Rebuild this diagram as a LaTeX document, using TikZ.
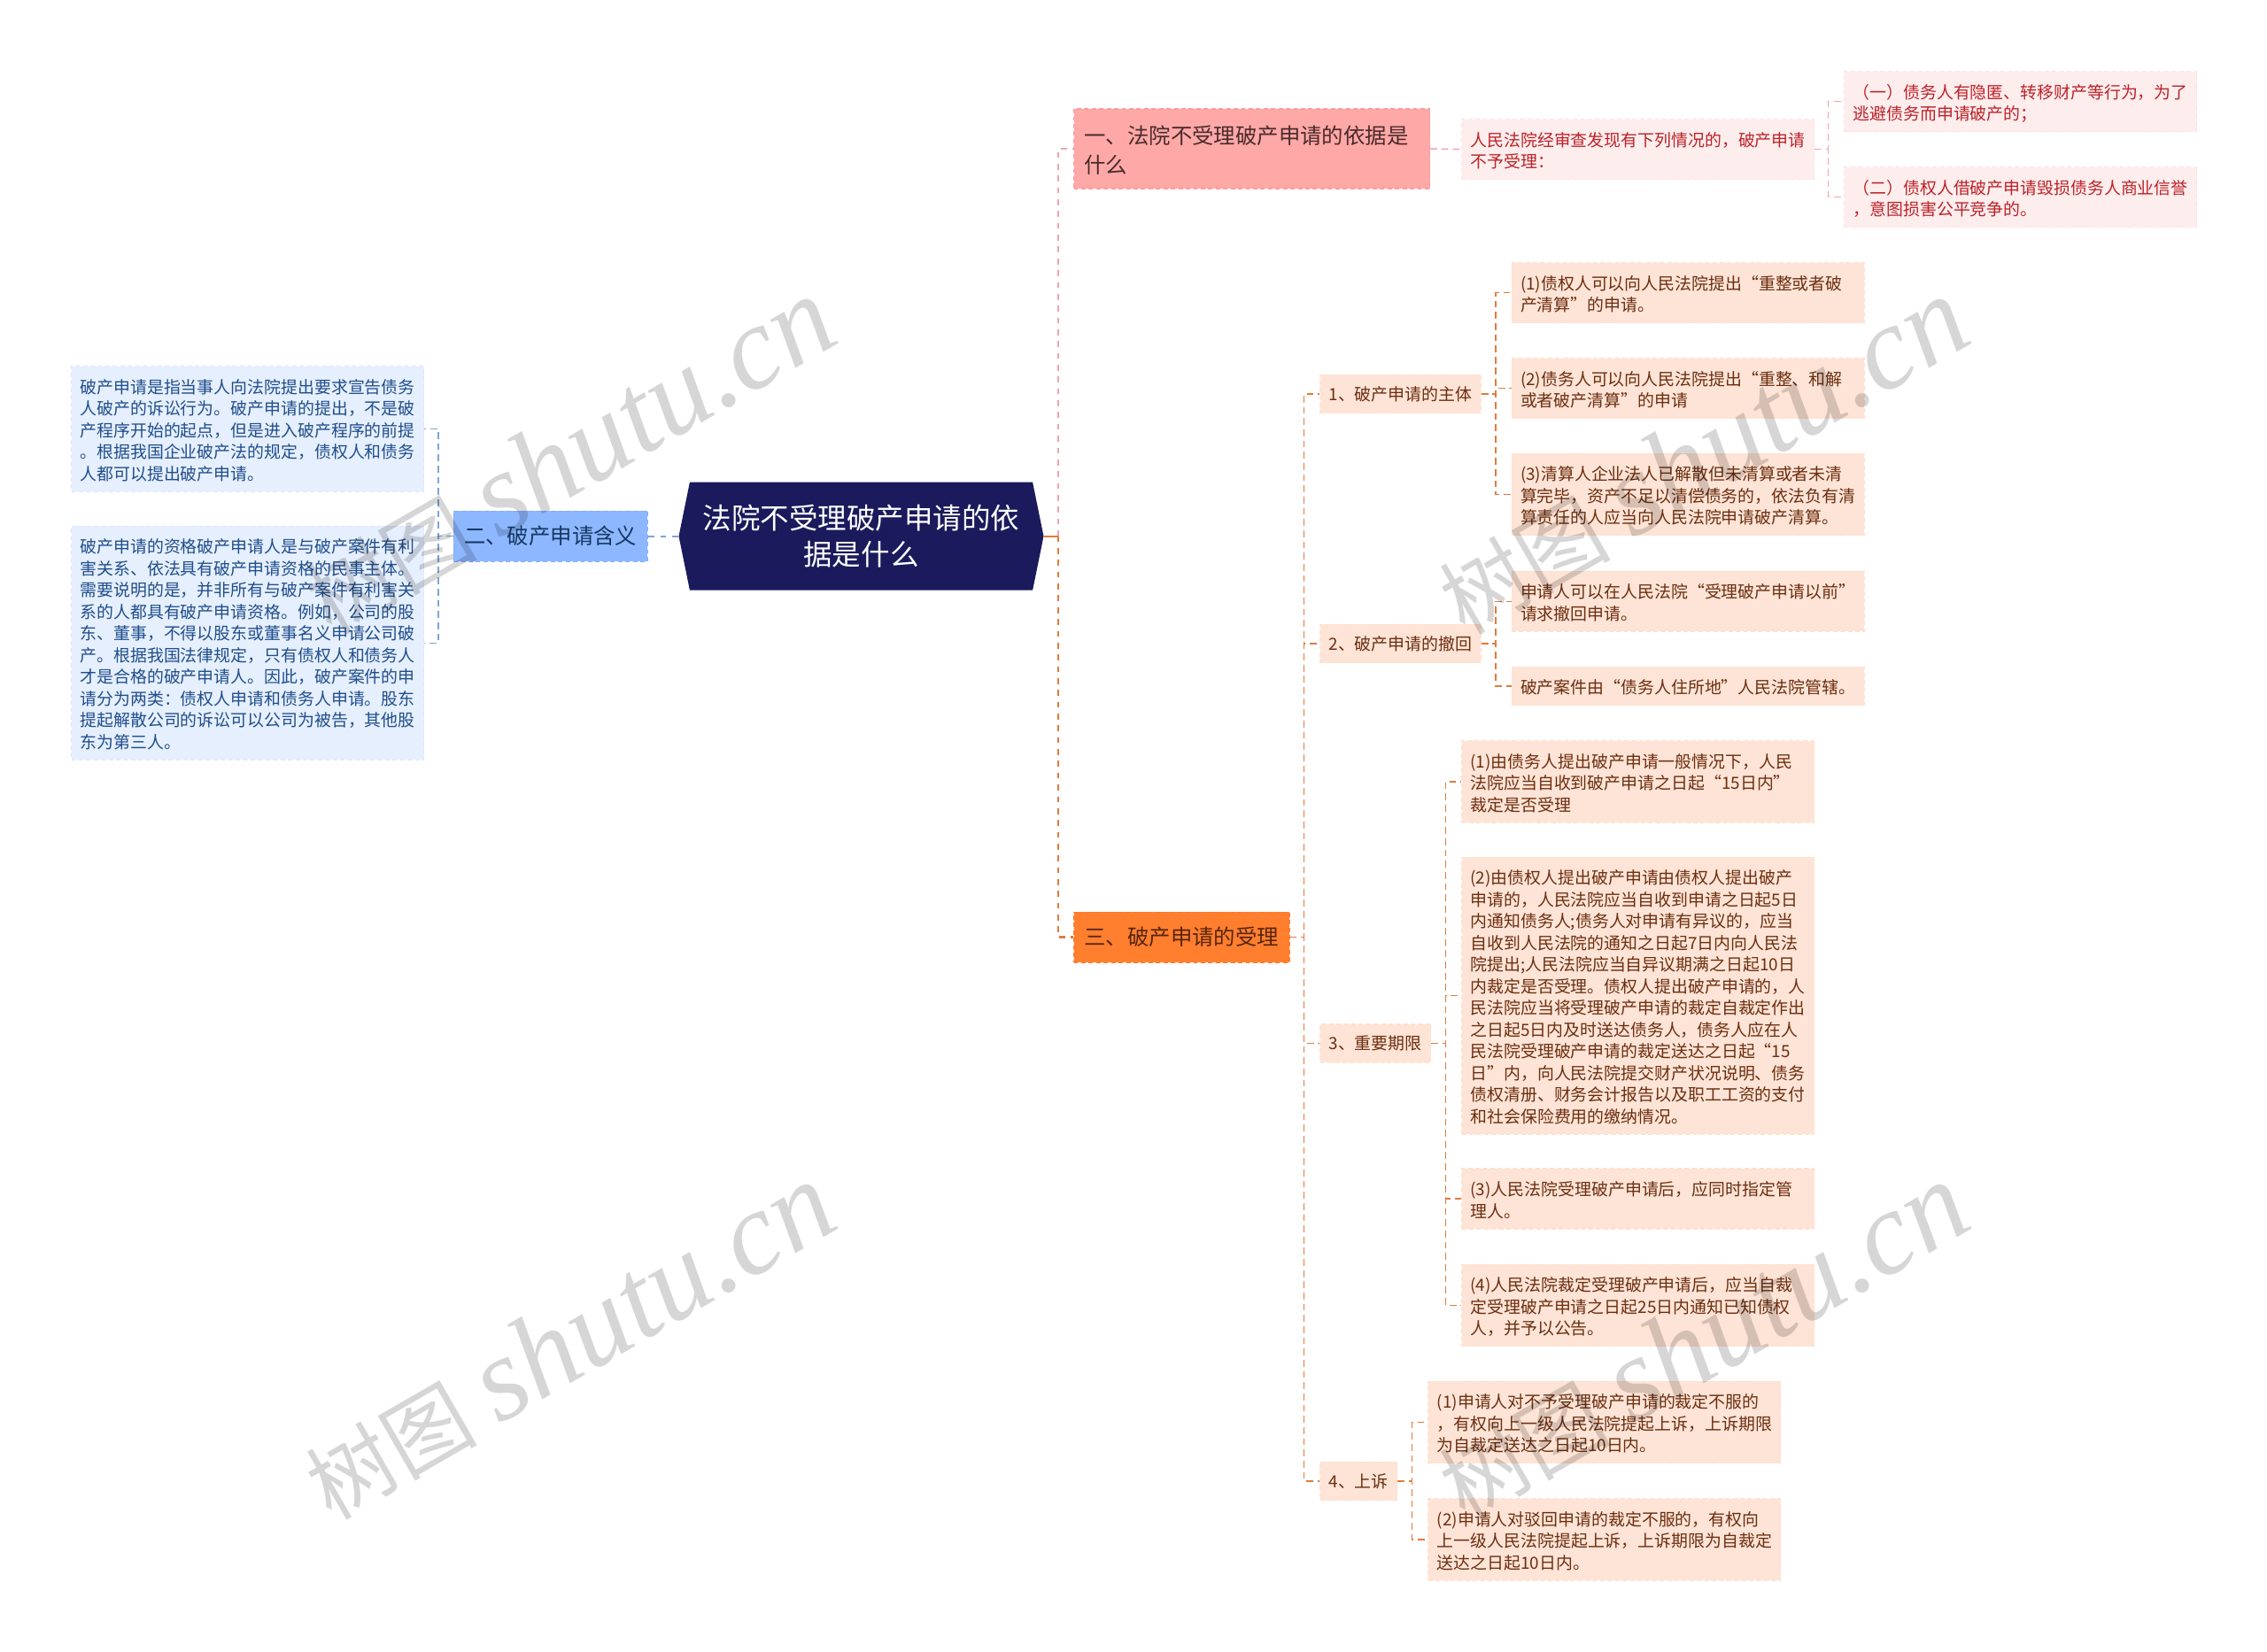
\documentclass[tikz,border=0pt]{standalone}
\usepackage{fontspec}
\setmainfont{Noto Sans CJK SC}
\newfontfamily\markcjk{Noto Sans CJK SC}
\newfontfamily\marklatin{Liberation Serif}
\usetikzlibrary{shapes.symbols}
\definecolor{navy}{HTML}{1A1A5C}
\definecolor{redtop}{HTML}{FFA8A8}
\definecolor{redleaf}{HTML}{FDEDED}
\definecolor{redtext}{HTML}{BC2228}
\definecolor{darktext}{HTML}{4A2A2A}
\definecolor{bluetop}{HTML}{8DB8FF}
\definecolor{blueleaf}{HTML}{E6EFFD}
\definecolor{bluetext}{HTML}{1F4E8C}
\definecolor{orangetop}{HTML}{FF7F2F}
\definecolor{orangeleaf}{HTML}{FEE4D6}
\definecolor{browntext}{HTML}{6B2E10}
\definecolor{linered}{HTML}{EFA5AE}
\definecolor{lineorange}{HTML}{E07B3C}
\definecolor{lineblue}{HTML}{7FA3D8}

\begin{document}
\begin{tikzpicture}[
        x=1cm, y=-1cm,
        base box/.style={
            rectangle,
            anchor=west,
            align=left,
            line width=0.3pt,
            dash pattern=on 1.4pt off 1pt
        },
        root box/.style={
            signal,
            signal to=west and east,
            signal pointer angle=157,
            fill=navy,
            text=white,
            minimum width=4.12cm,
            minimum height=1.22cm,
            inner sep=0pt,
            align=center,
            font=\fontsize{9.25}{11.86}\selectfont
        },
        top box/.style={
            base box,
            inner xsep=0.12cm,
            inner ysep=0pt,
            font=\fontsize{6.94}{9.3}\selectfont
        },
        sub box/.style={
            base box,
            fill=orangeleaf,
            draw=orangeleaf!96!orange,
            text=browntext,
            inner xsep=0.1cm,
            inner ysep=0pt,
            minimum height=0.434cm,
            font=\fontsize{5.38}{6.97}\selectfont
        },
        leaf box/.style={
            base box,
            inner xsep=0.1cm,
            inner ysep=0pt,
            text width=3.78cm,
            text height=5pt,
            font=\fontsize{5.38}{6.97}\selectfont
        },
        nlines/.style={
            minimum height={(0.245*#1+0.19)*1cm},
            text depth={(#1-1)*6.97pt}
        },
        red leaf/.style={leaf box,fill=redleaf,draw=redleaf!96!red,text=redtext},
        blue leaf/.style={leaf box,fill=blueleaf,draw=blueleaf!96!blue,text=bluetext},
        orange leaf/.style={leaf box,fill=orangeleaf,draw=orangeleaf!96!orange,text=browntext},
        main line/.style={line width=0.8pt,dash pattern=on 1.9pt off 1.9pt},
        stub line/.style={line width=0.65pt},
        thin line/.style={line width=0.42pt,dash pattern=on 2.2pt off 1.4pt},
        mark text/.style={rotate=30,black,opacity=0.16,inner sep=0pt}
    ]
    \useasboundingbox (0,0) rectangle (25.6,18.66);

    % root
    \node[root box] (root) at (9.725,6.057) {法院不受理破产申请的依\\据是什么};

    % first branch
    \node[top box,fill=redtop,draw=redtop!92!red,text=darktext,minimum width=4.02cm,minimum height=0.9cm,text width=3.78cm,text height=6.5pt,text depth=9.6pt] (one) at (12.12,1.68) {一、法院不受理破产申请的依据是\\什么};
    \node[red leaf,nlines=2] (one a) at (16.5,1.687) {人民法院经审查发现有下列情况的，破产申请\\不予受理：};
    \node[red leaf,nlines=2] (one aa) at (20.82,1.147) {（一）债务人有隐匿、转移财产等行为，为了\\逃避债务而申请破产的；};
    \node[red leaf,nlines=2] (one ab) at (20.82,2.227) {（二）债权人借破产申请毁损债务人商业信誉\\，意图损害公平竞争的。};

    % second branch
    \node[top box,anchor=east,fill=bluetop,draw=bluetop!92!blue,text=bluetext!70!black,minimum height=0.567cm] (two) at (7.318,6.057) {二、破产申请含义};
    \node[blue leaf,nlines=5] (two a) at (0.8,4.843) {破产申请是指当事人向法院提出要求宣告债务\\人破产的诉讼行为。破产申请的提出，不是破\\产程序开始的起点，但是进入破产程序的前提\\。根据我国企业破产法的规定，债权人和债务\\人都可以提出破产申请。};
    \node[blue leaf,nlines=10] (two b) at (0.8,7.263) {破产申请的资格破产申请人是与破产案件有利\\害关系、依法具有破产申请资格的民事主体。\\需要说明的是，并非所有与破产案件有利害关\\系的人都具有破产申请资格。例如，公司的股\\东、董事，不得以股东或董事名义申请公司破\\产。根据我国法律规定，只有债权人和债务人\\才是合格的破产申请人。因此，破产案件的申\\请分为两类：债权人申请和债务人申请。股东\\提起解散公司的诉讼可以公司为被告，其他股\\东为第三人。};

    % third branch
    \node[top box,fill=orangetop,draw=orangetop!92!red,text=browntext!80!black,minimum height=0.573cm] (three) at (12.12,10.587) {三、破产申请的受理};

    \node[sub box] (sub a) at (14.9,4.45) {1、破产申请的主体};
    \node[sub box] (sub b) at (14.9,7.27) {2、破产申请的撤回};
    \node[sub box] (sub c) at (14.9,11.787) {3、重要期限};
    \node[sub box] (sub d) at (14.9,16.73) {4、上诉};

    \node[orange leaf,nlines=2] (a1) at (17.065,3.307) {(1)债权人可以向人民法院提出“重整或者破\\产清算”的申请。};
    \node[orange leaf,nlines=2] (a2) at (17.065,4.387) {(2)债务人可以向人民法院提出“重整、和解\\或者破产清算”的申请};
    \node[orange leaf,nlines=3] (a3) at (17.065,5.587) {(3)清算人企业法人已解散但未清算或者未清\\算完毕，资产不足以清偿债务的，依法负有清\\算责任的人应当向人民法院申请破产清算。};

    \node[orange leaf,nlines=2] (b1) at (17.065,6.793) {申请人可以在人民法院“受理破产申请以前”\\请求撤回申请。};
    \node[orange leaf,minimum height=0.434cm,text depth=0pt] (b2) at (17.065,7.75) {破产案件由“债务人住所地”人民法院管辖。};

    \node[orange leaf,nlines=3] (c1) at (16.5,8.83) {(1)由债务人提出破产申请一般情况下，人民\\法院应当自收到破产申请之日起“15日内”\\裁定是否受理};
    \node[orange leaf,nlines=12] (c2) at (16.5,11.247) {(2)由债权人提出破产申请由债权人提出破产\\申请的，人民法院应当自收到申请之日起5日\\内通知债务人;债务人对申请有异议的，应当\\自收到人民法院的通知之日起7日内向人民法\\院提出;人民法院应当自异议期满之日起10日\\内裁定是否受理。债权人提出破产申请的，人\\民法院应当将受理破产申请的裁定自裁定作出\\之日起5日内及时送达债务人，债务人应在人\\民法院受理破产申请的裁定送达之日起“15\\日”内，向人民法院提交财产状况说明、债务\\债权清册、财务会计报告以及职工工资的支付\\和社会保险费用的缴纳情况。};
    \node[orange leaf,nlines=2] (c3) at (16.5,13.54) {(3)人民法院受理破产申请后，应同时指定管\\理人。};
    \node[orange leaf,nlines=3] (c4) at (16.5,14.743) {(4)人民法院裁定受理破产申请后，应当自裁\\定受理破产申请之日起25日内通知已知债权\\人，并予以公告。};

    \node[orange leaf,nlines=3] (d1) at (16.123,16.067) {(1)申请人对不予受理破产申请的裁定不服的\\，有权向上一级人民法院提起上诉，上诉期限\\为自裁定送达之日起10日内。};
    \node[orange leaf,nlines=3] (d2) at (16.123,17.39) {(2)申请人对驳回申请的裁定不服的，有权向\\上一级人民法院提起上诉，上诉期限为自裁定\\送达之日起10日内。};

    % trunks
    \coordinate (trunk r) at (11.95,0);
    \coordinate (trunk l) at (4.95,0);
    \coordinate (trunk o) at (20.646,0);
    \coordinate (trunk s) at (14.727,0);
    \coordinate (trunk a) at (16.89,0);
    \coordinate (trunk c) at (16.325,0);
    \coordinate (trunk d) at (15.945,0);

    % root connections
    \draw[main line,draw=linered] (trunk r |- root.east) |- (one.west);
    \draw[main line,draw=lineorange] (trunk r |- root.east) |- (three.west);
    \draw[stub line,draw=lineorange] (root.east) -- (trunk r |- root.east);
    \draw[main line,line width=0.6pt,draw=lineblue] (root.west) -- (two.east);

    \draw[thin line,draw=linered] (one.east) -- (one a.west);
    \foreach \kid in {one aa,one ab}
        \draw[thin line,draw=linered] (one a.east) -- (trunk o |- one a.east) |- (\kid.west);

    \foreach \kid in {two a,two b}
        \draw[thin line,draw=lineblue] (two.west) -- (trunk l |- two.west) |- (\kid.east);

    \foreach \kid in {sub a,sub b,sub c,sub d}
        \draw[thin line,draw=lineorange] (three.east) -- (trunk s |- three.east) |- (\kid.west);

    % leaf connections
    \foreach \from/\trunk/\kids in {sub a/trunk a/{a1,a2,a3},sub b/trunk a/{b1,b2},sub c/trunk c/{c1,c2,c3,c4},sub d/trunk d/{d1,d2}} {
        \foreach \kid in \kids
            \draw[thin line,draw=lineorange] (\from.east) -- (\trunk |- \from.east) |- (\kid.west);
    }

    % watermark
    \foreach \x/\y/\m in {6.42/5.15/ma,19.22/5.15/mb,6.42/15.15/mc,19.22/15.15/md} {
        \node[mark text] (\m) at (\x,\y) {\fontsize{27.5}{32}\selectfont\markcjk 树图\hspace{0.25cm}\fontsize{38}{38}\selectfont\marklatin\itshape shutu.cn};
    }
\end{tikzpicture}
\end{document}
